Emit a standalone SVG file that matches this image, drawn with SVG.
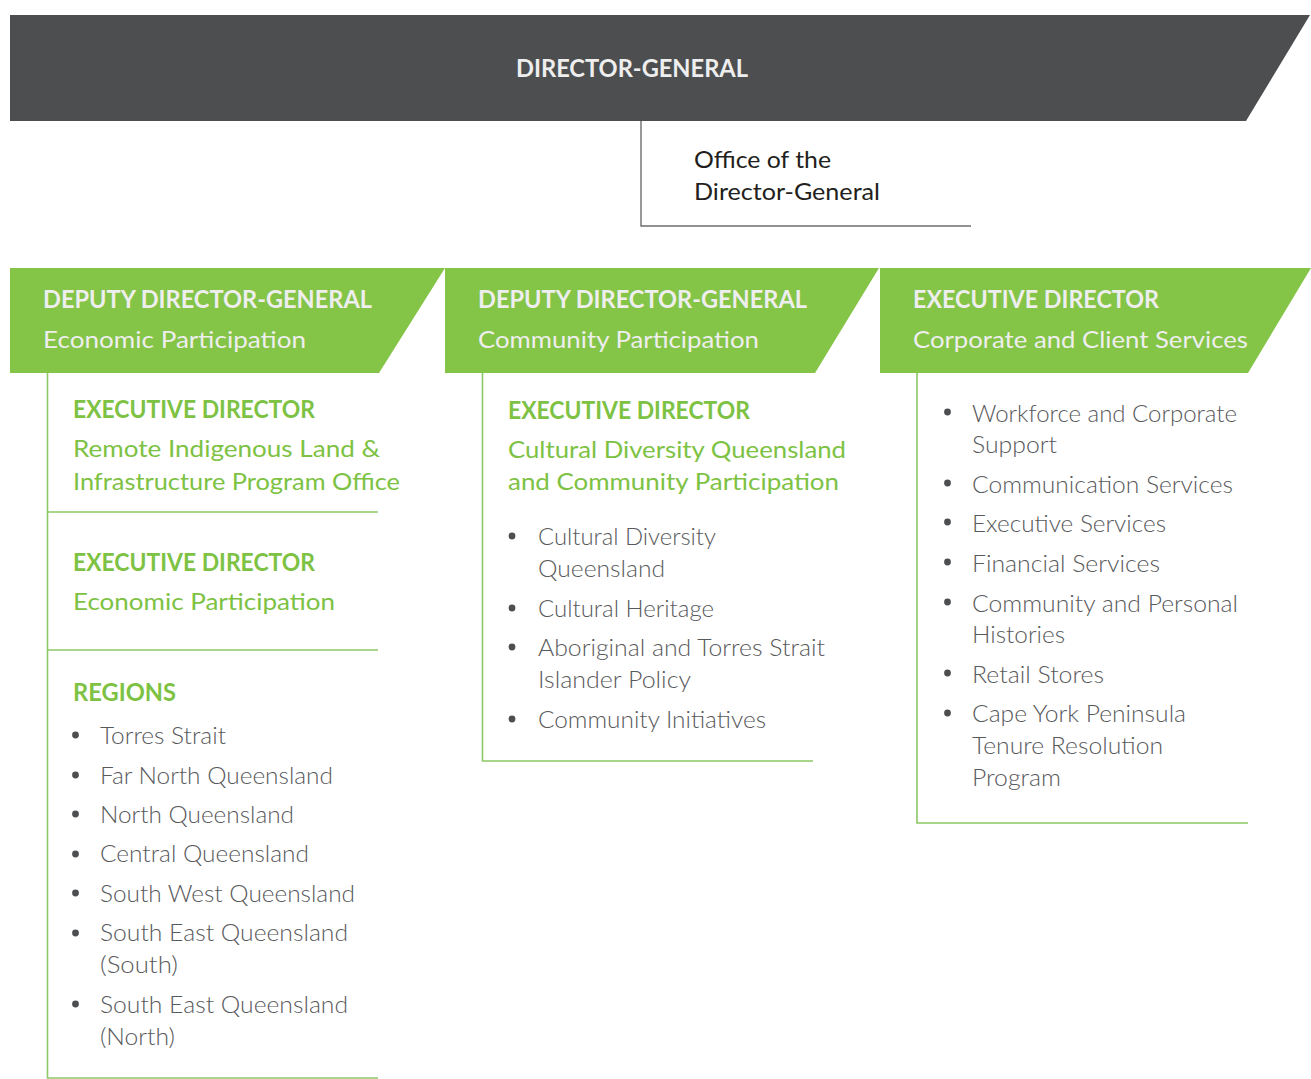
<svg xmlns="http://www.w3.org/2000/svg" width="1311" height="1079" viewBox="0 0 1311 1079">
  <style>
    .banner { fill: #4d4e50; }
    .head { fill: #84c446; }
    .t { font-family: Lato, "Open Sans", "Liberation Sans", sans-serif; }
    .cap { font-weight: 700; font-size: 24px; }
    .sub { font-weight: 400; font-size: 24px; }
    .light { fill: #eeeeee; }
    .green { fill: #7dc243; }
    .body { font-weight: 300; font-size: 24px; fill: #58595b; }
    .office { font-weight: 400; font-size: 24px; fill: #231f20; }
    .gline { stroke: #8cc863; stroke-width: 1.6; fill: none; }
    .kline { stroke: #6d6e70; stroke-width: 1.4; fill: none; }
    .dot { fill: #4d4e50; }
  </style>

  <!-- Director-General banner -->
  <g id="director-general">
    <polygon class="banner" points="10,15 1310,15 1246,121 10,121"/>
    <text class="t cap light" x="516" y="77" textLength="232" lengthAdjust="spacingAndGlyphs">DIRECTOR-GENERAL</text>
  </g>

  <!-- Office of the Director-General -->
  <g id="office-dg">
    <text class="t office" x="694" y="168" textLength="137" lengthAdjust="spacingAndGlyphs">Office of the</text>
    <text class="t office" x="694" y="200" textLength="186" lengthAdjust="spacingAndGlyphs">Director-General</text>
  </g>

  <!-- Connectors and column rules -->
  <g id="connectors">
    <polyline class="kline" points="641,121 641,226 971,226"/>
    <polyline class="gline" points="47.5,373 47.5,1078 378,1078"/>
    <line class="gline" x1="47.5" y1="512" x2="378" y2="512"/>
    <line class="gline" x1="47.5" y1="650" x2="378" y2="650"/>
    <polyline class="gline" points="482.5,373 482.5,761 813,761"/>
    <polyline class="gline" points="917,373 917,823 1248,823"/>
  </g>

  <!-- DDG Economic Participation -->
  <g id="ddg-economic">
    <polygon class="head" points="10,268 445,268 379,373 10,373"/>
    <text class="t cap light" x="43" y="308" textLength="329" lengthAdjust="spacingAndGlyphs">DEPUTY DIRECTOR-GENERAL</text>
    <text class="t sub light" x="43" y="348" textLength="263" lengthAdjust="spacingAndGlyphs">Economic Participation</text>
  </g>

  <!-- DDG Community Participation -->
  <g id="ddg-community">
    <polygon class="head" points="445,268 879,268 815,373 445,373"/>
    <text class="t cap light" x="478" y="308" textLength="329" lengthAdjust="spacingAndGlyphs">DEPUTY DIRECTOR-GENERAL</text>
    <text class="t sub light" x="478" y="348" textLength="281" lengthAdjust="spacingAndGlyphs">Community Participation</text>
  </g>

  <!-- ED Corporate and Client Services -->
  <g id="ed-corporate">
    <polygon class="head" points="880,268 1311,268 1248,373 880,373"/>
    <text class="t cap light" x="913" y="308" textLength="246" lengthAdjust="spacingAndGlyphs">EXECUTIVE DIRECTOR</text>
    <text class="t sub light" x="913" y="348" textLength="335" lengthAdjust="spacingAndGlyphs">Corporate and Client Services</text>
  </g>

  <!-- ED Remote Indigenous Land & Infrastructure -->
  <g id="ed-rilipo">
    <text class="t cap green" x="73" y="418" textLength="242" lengthAdjust="spacingAndGlyphs">EXECUTIVE DIRECTOR</text>
    <text class="t sub green" x="73" y="457" textLength="307" lengthAdjust="spacingAndGlyphs">Remote Indigenous Land &amp;</text>
    <text class="t sub green" x="73" y="490" textLength="327" lengthAdjust="spacingAndGlyphs">Infrastructure Program Office</text>
  </g>

  <!-- ED Economic Participation -->
  <g id="ed-economic">
    <text class="t cap green" x="73" y="571" textLength="242" lengthAdjust="spacingAndGlyphs">EXECUTIVE DIRECTOR</text>
    <text class="t sub green" x="73" y="610" textLength="262" lengthAdjust="spacingAndGlyphs">Economic Participation</text>
  </g>

  <!-- Regions -->
  <g id="regions">
    <text class="t cap green" x="73" y="701" textLength="103" lengthAdjust="spacingAndGlyphs">REGIONS</text>
    <circle class="dot" cx="75.5" cy="735" r="3.4"/>
    <text class="t body" x="100" y="744" textLength="126" lengthAdjust="spacingAndGlyphs">Torres Strait</text>
    <circle class="dot" cx="75.5" cy="775" r="3.4"/>
    <text class="t body" x="100" y="784" textLength="233" lengthAdjust="spacingAndGlyphs">Far North Queensland</text>
    <circle class="dot" cx="75.5" cy="814" r="3.4"/>
    <text class="t body" x="100" y="823" textLength="194" lengthAdjust="spacingAndGlyphs">North Queensland</text>
    <circle class="dot" cx="75.5" cy="854" r="3.4"/>
    <text class="t body" x="100" y="862" textLength="209" lengthAdjust="spacingAndGlyphs">Central Queensland</text>
    <circle class="dot" cx="75.5" cy="893" r="3.4"/>
    <text class="t body" x="100" y="902" textLength="255" lengthAdjust="spacingAndGlyphs">South West Queensland</text>
    <circle class="dot" cx="75.5" cy="933" r="3.4"/>
    <text class="t body" x="100" y="941" textLength="248" lengthAdjust="spacingAndGlyphs">South East Queensland</text>
    <text class="t body" x="100" y="973" textLength="78" lengthAdjust="spacingAndGlyphs">(South)</text>
    <circle class="dot" cx="75.5" cy="1004" r="3.4"/>
    <text class="t body" x="100" y="1013" textLength="248" lengthAdjust="spacingAndGlyphs">South East Queensland</text>
    <text class="t body" x="100" y="1045" textLength="75" lengthAdjust="spacingAndGlyphs">(North)</text>
  </g>

  <!-- ED Cultural Diversity Queensland and Community Participation -->
  <g id="ed-cultural">
    <text class="t cap green" x="508" y="419" textLength="242" lengthAdjust="spacingAndGlyphs">EXECUTIVE DIRECTOR</text>
    <text class="t sub green" x="508" y="458" textLength="338" lengthAdjust="spacingAndGlyphs">Cultural Diversity Queensland</text>
    <text class="t sub green" x="508" y="490" textLength="331" lengthAdjust="spacingAndGlyphs">and Community Participation</text>
    <circle class="dot" cx="512" cy="536" r="3.4"/>
    <text class="t body" x="538" y="545" textLength="178" lengthAdjust="spacingAndGlyphs">Cultural Diversity</text>
    <text class="t body" x="538" y="577" textLength="127" lengthAdjust="spacingAndGlyphs">Queensland</text>
    <circle class="dot" cx="512" cy="608" r="3.4"/>
    <text class="t body" x="538" y="617" textLength="176" lengthAdjust="spacingAndGlyphs">Cultural Heritage</text>
    <circle class="dot" cx="512" cy="647" r="3.4"/>
    <text class="t body" x="538" y="656" textLength="287" lengthAdjust="spacingAndGlyphs">Aboriginal and Torres Strait</text>
    <text class="t body" x="538" y="688" textLength="153" lengthAdjust="spacingAndGlyphs">Islander Policy</text>
    <circle class="dot" cx="512" cy="719" r="3.4"/>
    <text class="t body" x="538" y="728" textLength="228" lengthAdjust="spacingAndGlyphs">Community Initiatives</text>
  </g>

  <!-- Corporate and Client Services units -->
  <g id="corporate-units">
    <circle class="dot" cx="947.5" cy="412" r="3.4"/>
    <text class="t body" x="972" y="422" textLength="265" lengthAdjust="spacingAndGlyphs">Workforce and Corporate</text>
    <text class="t body" x="972" y="453" textLength="85" lengthAdjust="spacingAndGlyphs">Support</text>
    <circle class="dot" cx="947.5" cy="483" r="3.4"/>
    <text class="t body" x="972" y="493" textLength="261" lengthAdjust="spacingAndGlyphs">Communication Services</text>
    <circle class="dot" cx="947.5" cy="522" r="3.4"/>
    <text class="t body" x="972" y="532" textLength="194" lengthAdjust="spacingAndGlyphs">Executive Services</text>
    <circle class="dot" cx="947.5" cy="562" r="3.4"/>
    <text class="t body" x="972" y="572" textLength="188" lengthAdjust="spacingAndGlyphs">Financial Services</text>
    <circle class="dot" cx="947.5" cy="602" r="3.4"/>
    <text class="t body" x="972" y="612" textLength="266" lengthAdjust="spacingAndGlyphs">Community and Personal</text>
    <text class="t body" x="972" y="643" textLength="93" lengthAdjust="spacingAndGlyphs">Histories</text>
    <circle class="dot" cx="947.5" cy="673" r="3.4"/>
    <text class="t body" x="972" y="683" textLength="132" lengthAdjust="spacingAndGlyphs">Retail Stores</text>
    <circle class="dot" cx="947.5" cy="713" r="3.4"/>
    <text class="t body" x="972" y="722" textLength="214" lengthAdjust="spacingAndGlyphs">Cape York Peninsula</text>
    <text class="t body" x="972" y="754" textLength="191" lengthAdjust="spacingAndGlyphs">Tenure Resolution</text>
    <text class="t body" x="972" y="786" textLength="89" lengthAdjust="spacingAndGlyphs">Program</text>
  </g>
</svg>
